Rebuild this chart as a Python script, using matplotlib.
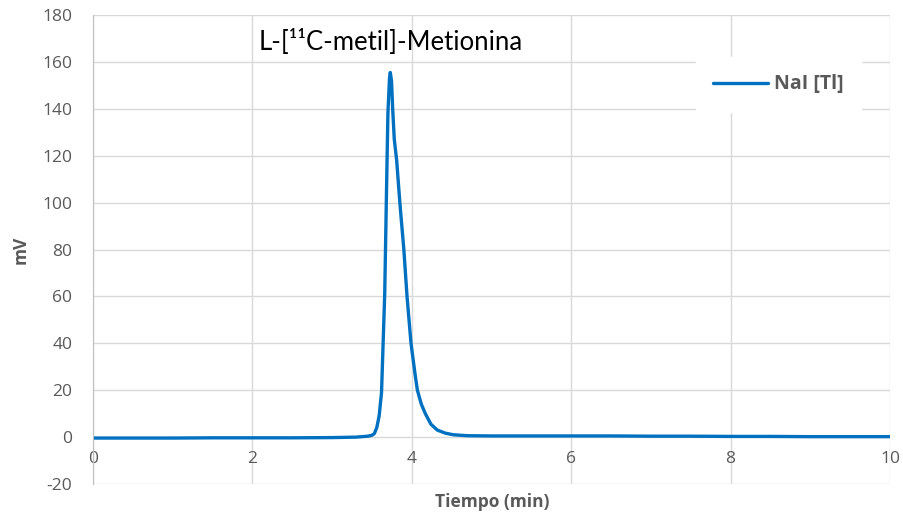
import matplotlib.pyplot as plt

# chromatogram trace (time in min, signal in mV)
tiempo = [0, 0.5, 1, 1.5, 2, 2.5, 3, 3.3, 3.45, 3.5, 3.53, 3.56, 3.59, 3.62, 3.64,
          3.66, 3.68, 3.70, 3.72, 3.73, 3.745, 3.76, 3.78, 3.81, 3.85, 3.90, 3.94,
          3.99, 4.04, 4.07, 4.12, 4.17, 4.24, 4.32, 4.42, 4.52, 4.7, 5, 5.5, 6,
          6.5, 7, 7.5, 8, 8.5, 9, 9.5, 10]
senal = [-0.4, -0.4, -0.4, -0.3, -0.3, -0.3, -0.2, 0.0, 0.4, 0.8, 1.5, 4, 9, 19, 40,
         61, 100, 138, 153, 155.5, 152, 140, 127, 118, 100, 80, 60,
         40, 27, 20, 14, 10, 5.5, 3, 1.7, 1.0, 0.6, 0.5, 0.5, 0.5,
         0.5, 0.4, 0.4, 0.3, 0.3, 0.2, 0.2, 0.2]

xticks = [0, 2, 4, 6, 8, 10]
yticks = [-20, 0, 20, 40, 60, 80, 100, 120, 140, 160, 180]

grey = "#595959"
plt.rcParams['font.family'] = ['Open Sans', 'DejaVu Sans']
plt.rcParams['axes.unicode_minus'] = False

fig = plt.figure(figsize=(9.04, 5.18), dpi=100)
ax = fig.add_axes([0.1029, 0.0656, 0.8816, 0.9054])

ax.plot(tiempo, senal, color="#0070C0", lw=2.4, label="NaI [Tl]", solid_capstyle="round")

ax.set_xlim(0, 10)
ax.set_ylim(-20, 180)
ax.set_xticks(xticks)
ax.set_yticks(yticks)
ax.grid(True, color="#d9d9d9", lw=1)
ax.set_axisbelow(True)

for s in ["top", "right"]:
    ax.spines[s].set_visible(False)
ax.spines["left"].set_color("#bfbfbf")
# x tick labels sit under the zero line, like Excel
ax.spines["bottom"].set_position(("data", 0))
ax.spines["bottom"].set_visible(False)
ax.tick_params(axis="both", length=0, labelsize=12.5, labelcolor=grey)
ax.tick_params(axis="x", pad=10)
ax.tick_params(axis="y", pad=15)

ax.set_ylabel("mV", fontsize=12.5, fontweight="bold", color=grey, labelpad=9)
fig.text(0.545, 0.03, "Tiempo (min)", ha="center", va="center",
         fontsize=12.5, fontweight="bold", color=grey)

ax.text(3.73, 168.5, "L-[¹¹C-metil]-Metionina", ha="center", va="center",
        fontsize=18.5, family="Lato", color="black")

leg = ax.legend(loc="center", bbox_to_anchor=(0.86, 0.852), frameon=True,
                fancybox=False, fontsize=14, handlelength=2.8, handletextpad=0.3,
                borderpad=0.9)
leg.get_frame().set_edgecolor("white")
leg.get_frame().set_facecolor("white")
leg.get_frame().set_alpha(1)
for t in leg.get_texts():
    t.set_color(grey)
    t.set_fontweight("bold")

fig.savefig("out.png", dpi=100)
